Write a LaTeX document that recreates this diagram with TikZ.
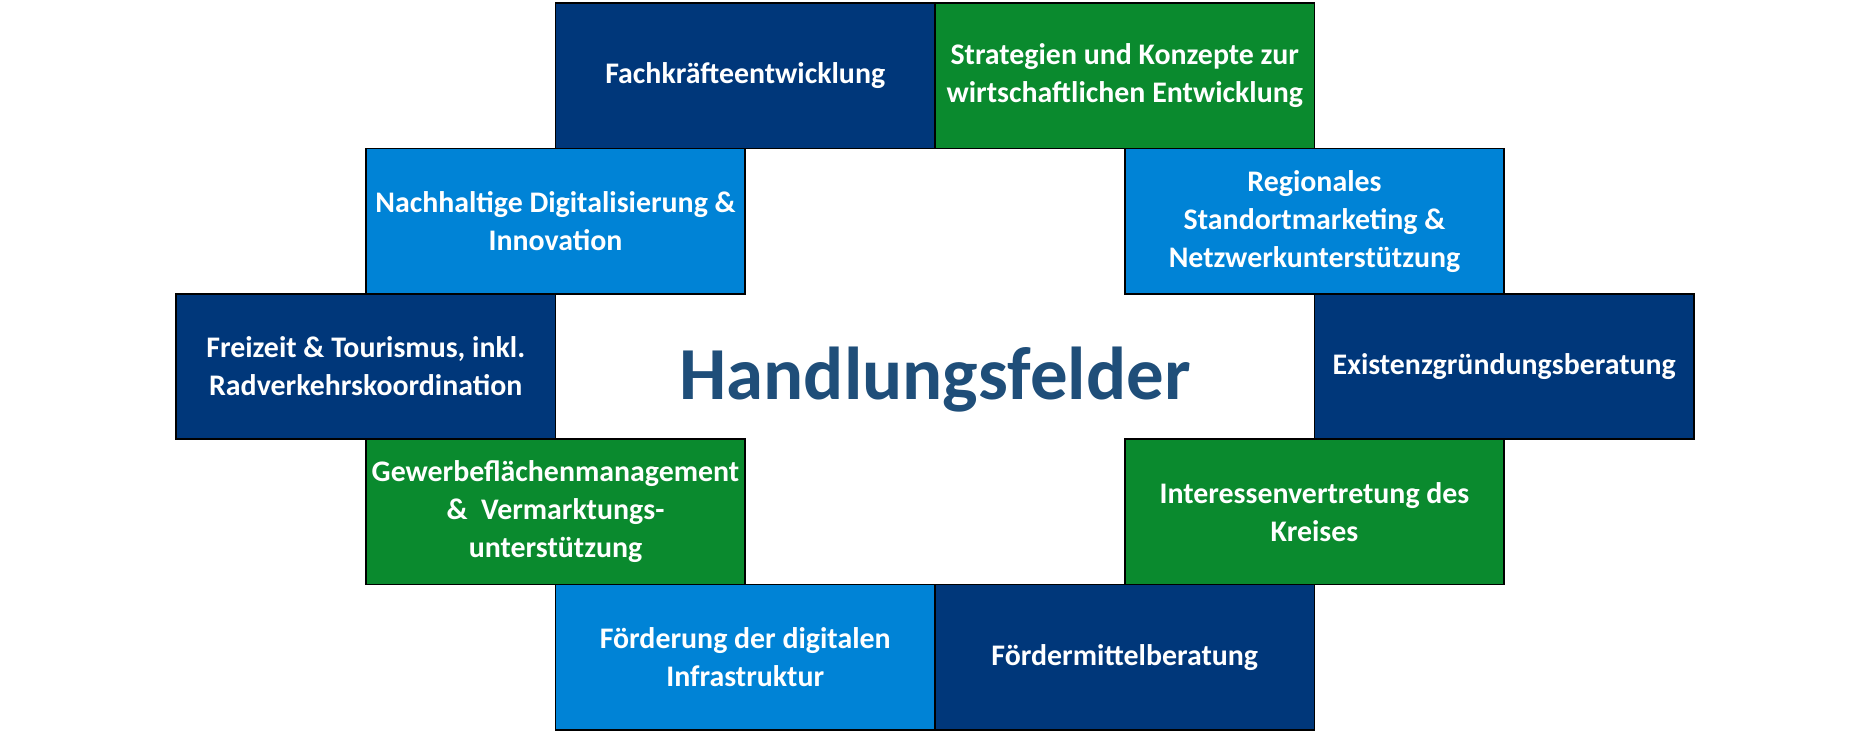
\documentclass[tikz,border=0pt]{standalone}
\usepackage{fontspec}
\setmainfont{Carlito}
\usetikzlibrary{positioning}
\definecolor{dunkelblau}{RGB}{0,55,122}
\definecolor{gruen}{RGB}{10,138,46}
\definecolor{hellblau}{RGB}{0,131,214}
\definecolor{titelblau}{RGB}{31,78,121}
\tikzstyle{feld} = [
    rectangle,
    minimum width=3.795cm,
    minimum height=1.454cm,
    inner sep=0pt,
    outer sep=0pt,
    draw=black,
    line width=0.5pt,
    align=center,
    text=white,
    font=\fontsize{8.5}{10.8}\selectfont\bfseries
]
\tikzstyle{dunkelfeld} = [feld, fill=dunkelblau]
\tikzstyle{gruenfeld} = [feld, fill=gruen]
\tikzstyle{hellfeld} = [feld, fill=hellblau]

\begin{document}
\begin{tikzpicture}[node distance=0pt]

\useasboundingbox (0,0) rectangle (18.70,-7.35);

\node (fachkraefte) [dunkelfeld] at (7.4525,-0.757)
{Fachkräfteentwicklung};

\node (strategien) [gruenfeld, right=of fachkraefte]
{Strategien und Konzepte zur\\wirtschaftlichen Entwicklung};

\node (nachhaltig) [hellfeld, below=of fachkraefte.south west]
{Nachhaltige Digitalisierung \&\\Innovation};

\node (regional) [hellfeld, below=of strategien.south east]
{Regionales\\Standortmarketing \&\\Netzwerkunterstützung};

\node (freizeit) [dunkelfeld, below=of nachhaltig.south west]
{Freizeit \& Tourismus, inkl.\\Radverkehrskoordination};

\node (existenz) [dunkelfeld, below=of regional.south east]
{Existenzgründungsberatung};

\node (gewerbe) [gruenfeld, below=of freizeit.south east]
{Gewerbeflächenmanagement\\\&~ Vermarktungs-\\unterstützung};

\node (interessen) [gruenfeld, below=of existenz.south west]
{Interessenvertretung des\\Kreises};

\node (foerderung) [hellfeld, below=of gewerbe.south east]
{Förderung der digitalen\\Infrastruktur};

\node (foerdermittel) [dunkelfeld, right=of foerderung]
{Fördermittelberatung};

\node (titel) [anchor=base, text=titelblau, font=\fontsize{21.3}{25}\selectfont\bfseries]
at (9.35,-3.99) {Handlungsfelder};

\end{tikzpicture}
\end{document}
